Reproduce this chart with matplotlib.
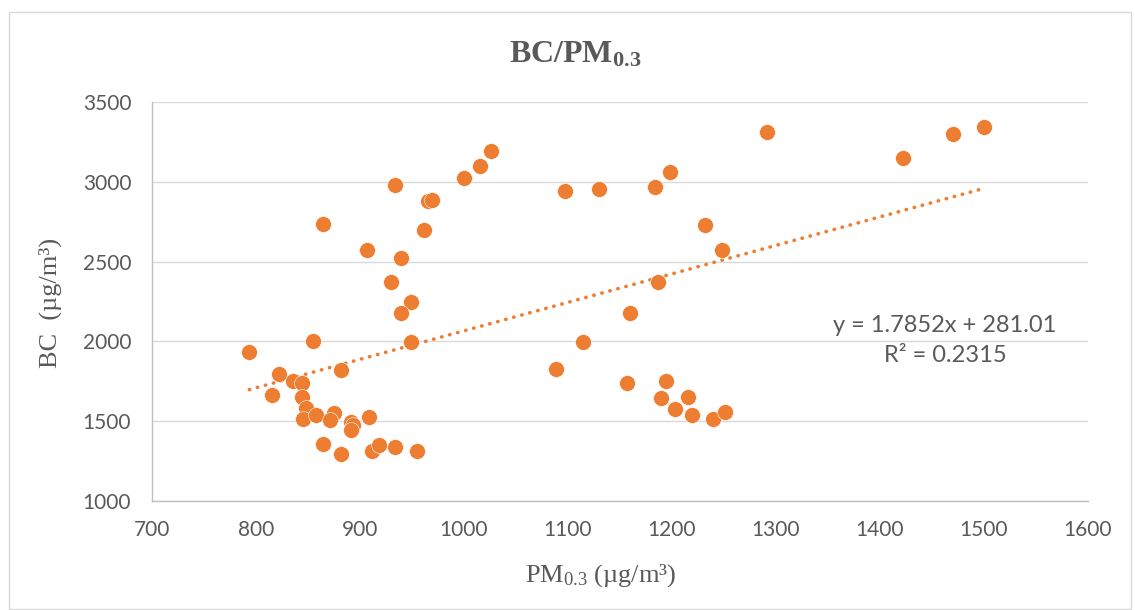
import matplotlib
matplotlib.use("Agg")
import matplotlib.pyplot as plt
from matplotlib.patches import Rectangle
import numpy as np

# ---- data ----
pm03 = [793.6, 854.5, 864.7, 821.8, 815.4, 836.0, 843.9, 844.0, 848.0, 845.0,
        857.7, 875.0, 871.0, 882.0, 891.0, 893.6, 891.0, 908.7, 864.7, 881.4,
        912.0, 918.6, 934.0, 954.5, 907.0, 939.0, 929.5, 949.5, 939.0, 949.0,
        934.0, 961.5, 965.6, 969.7, 1000.3, 1015.0, 1026.0,
        1291.3, 1198.4, 1184.0, 1130.0, 1096.7, 1231.7, 1248.4, 1186.8, 1159.8,
        1114.7, 1088.0, 1156.7, 1194.0, 1189.4, 1215.4, 1203.0, 1219.0, 1239.4,
        1250.7, 1421.8, 1469.9, 1500.0]
bc = [1933, 2002, 2733, 1795, 1665, 1755, 1742, 1650, 1581, 1513,
      1540, 1554, 1508, 1822, 1498, 1477, 1445, 1527, 1356, 1295,
      1314, 1351, 1337, 1312, 2570, 2520, 2370, 2244, 2175, 1999,
      2982, 2698, 2882, 2888, 3026, 3097, 3196,
      3315, 3064, 2968, 2957, 2940, 2731, 2570, 2372, 2178,
      1997, 1824, 1739, 1753, 1648, 1652, 1577, 1540, 1514,
      1556, 3152, 3300, 3344]
slope = 1.7852
intercept = 281.01
r2 = 0.2315
x_ticks = [700, 800, 900, 1000, 1100, 1200, 1300, 1400, 1500, 1600]
y_ticks = [1000, 1500, 2000, 2500, 3000, 3500]

orange = "#ED7D31"
grey_text = "#595959"

plt.rcParams['mathtext.fontset'] = 'custom'
plt.rcParams['mathtext.rm'] = 'Liberation Serif'
plt.rcParams['mathtext.it'] = 'Liberation Serif:italic'
plt.rcParams['mathtext.bf'] = 'Liberation Serif:bold'

fig = plt.figure(figsize=(11.35, 6.10), dpi=100)
fig.patches.append(Rectangle((9/1135, 1 - 609/610), 1122/1135, 597/610,
                             transform=fig.transFigure, fill=False,
                             edgecolor="#d9d9d9", linewidth=1.0))

ax = fig.add_axes([152/1135, 1 - 501/610, 936/1135, 399/610])
ax.set_xlim(700, 1600)
ax.set_ylim(1000, 3500)
ax.set_xticks(x_ticks)
ax.set_yticks(y_ticks)
ax.yaxis.grid(True, color="#d9d9d9", linewidth=1.0)
ax.set_axisbelow(True)
for s in ["top", "right"]:
    ax.spines[s].set_visible(False)
for s in ["left", "bottom"]:
    ax.spines[s].set_color("#bfbfbf")
    ax.spines[s].set_linewidth(1.0)
ax.tick_params(length=0, labelsize=15, labelcolor=grey_text)
ax.tick_params(axis='y', pad=15)
ax.tick_params(axis='x', pad=14)
for lab in ax.get_xticklabels() + ax.get_yticklabels():
    lab.set_fontfamily("Lato")

ax.scatter(pm03, bc, s=130, color=orange, edgecolors="white", linewidths=0.4, zorder=3)

xt = np.array([min(pm03), max(pm03)])
ax.plot(xt, slope * xt + intercept, linestyle=(0, (0.1, 2.2)), color=orange,
        linewidth=2.6, dash_capstyle="round", zorder=2)

fig.text(945/1135, 1 - 326/610, f"y = {slope}x + {intercept}", ha="center", va="center",
         fontsize=17, color=grey_text, family="Lato")
fig.text(945/1135, 1 - 355/610, f"R² = {r2}", ha="center", va="center",
         fontsize=17, color=grey_text, family="Lato")

fig.text(575/1135, 1 - 55/610, r"BC/PM$_{\mathbf{0.3}}$", ha="center", va="center",
         fontsize=23, fontweight="bold", color=grey_text, family="Liberation Serif")
fig.text(601/1135, 1 - 576/610, r"PM$_{\mathrm{0.3}}$ (µg/m³)", ha="center", va="center",
         fontsize=19, color=grey_text, family="Liberation Serif")
fig.text(50/1135, 1 - 303/610, "BC  (µg/m³)", ha="center", va="center", rotation=90,
         fontsize=19, color=grey_text, family="Liberation Serif")

fig.savefig("out.png", dpi=100)
